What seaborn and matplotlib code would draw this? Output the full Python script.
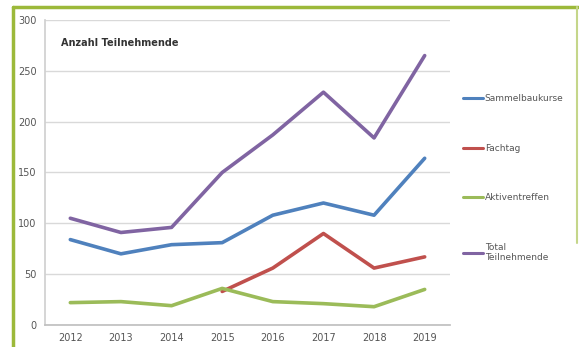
import matplotlib
matplotlib.use("Agg")
import matplotlib.pyplot as plt
import seaborn as sns
import pandas as pd
import numpy as np
from matplotlib.lines import Line2D

years = ["2012", "2013", "2014", "2015", "2016", "2017", "2018", "2019"]
sammelbaukurse = [84, 70, 79, 81, 108, 120, 108, 164]
fachtag = [np.nan, np.nan, np.nan, 33, 56, 90, 56, 67]
aktiventreffen = [22, 23, 19, 36, 23, 21, 18, 35]
total = [105, 91, 96, 150, 187, 229, 184, 265]
series_names = ["Sammelbaukurse", "Fachtag", "Aktiventreffen", "Total\nTeilnehmende"]
colors = ["#4F81BD", "#C0504D", "#9BBB59", "#8064A2"]

sns.set_theme(style="white")
plt.rcParams['font.family'] = ['DejaVu Sans']

df = pd.DataFrame({"Jahr": years * 4,
                   "Serie": sum([[n] * len(years) for n in series_names], []),
                   "Wert": sammelbaukurse + fachtag + aktiventreffen + total})

fig = plt.figure(figsize=(5.79, 3.47), dpi=100)
ax = fig.add_axes([45 / 579, 1 - 325 / 347, (450 - 45) / 579, (325 - 20) / 347])

for name, col in zip(series_names, colors):
    sub = df[df["Serie"] == name]
    sns.lineplot(data=sub, x="Jahr", y="Wert", color=col, lw=2.6, ax=ax,
                 sort=False, legend=False)

ax.set_ylim(0, 300)
ax.set_xlim(-0.5, len(years) - 0.5)
ax.set_yticks(range(0, 301, 50))
ax.yaxis.grid(True, color="#d9d9d9", lw=1)
ax.xaxis.grid(False)
ax.set_xlabel("")
ax.set_ylabel("")
for s in ["top", "right"]:
    ax.spines[s].set_visible(False)
ax.spines["left"].set_color("#d0d0d0")
ax.spines["bottom"].set_color("#c0c0c0")
ax.tick_params(axis="both", labelsize=7, colors="#555555", length=0, pad=6)
ax.set_axisbelow(True)

ax.text(0.04, 0.915, "Anzahl Teilnehmende", transform=ax.transAxes,
        fontsize=7, fontweight="bold", color="#333333")

handles = [Line2D([0], [0], color=c, lw=2.2) for c in colors]
fig.legend(handles, series_names, loc="upper left",
           bbox_to_anchor=(455 / 579, 1 - 86 / 347), frameon=False,
           fontsize=6.5, labelcolor="#555555", handlelength=2.2,
           handletextpad=0.2, labelspacing=4.5)

# green frame
fig.add_artist(Line2D([13 / 579, 578 / 579], [1 - 7 / 347, 1 - 7 / 347],
                      transform=fig.transFigure, color="#9CB93A", lw=2.5))
fig.add_artist(Line2D([13 / 579, 13 / 579], [0, 1 - 7 / 347],
                      transform=fig.transFigure, color="#9CB93A", lw=2.5))
fig.add_artist(Line2D([577 / 579, 577 / 579], [0.3, 1 - 7 / 347],
                      transform=fig.transFigure, color="#C5D68A", lw=1.5))

fig.savefig("out.png", dpi=100)
